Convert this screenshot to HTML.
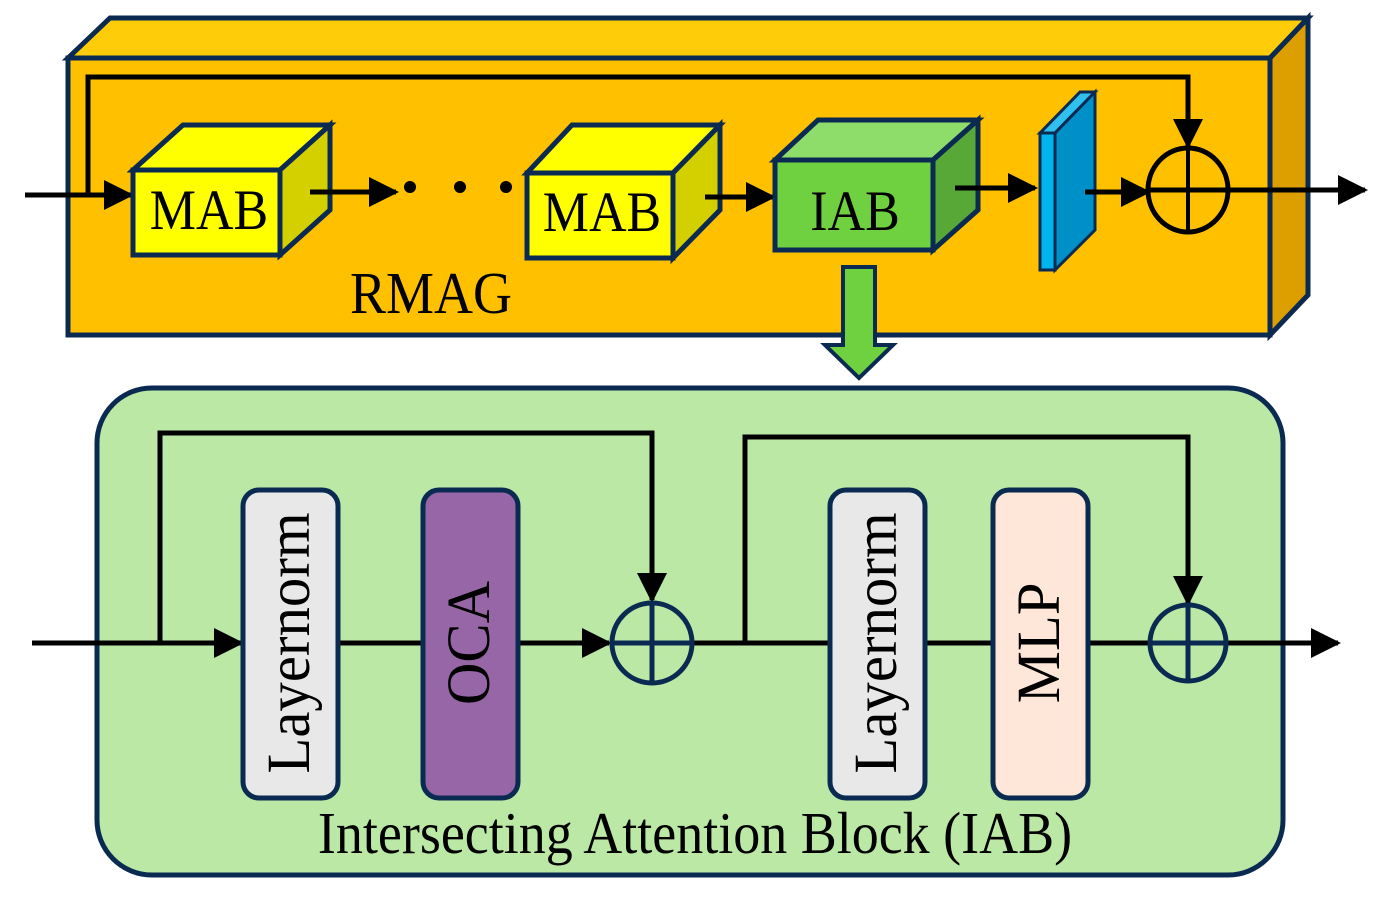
<!DOCTYPE html>
<html><head><style>html,body{margin:0;padding:0;background:#fff;}svg{display:block}</style></head>
<body>
<svg width="1386" height="900" viewBox="0 0 1386 900" xmlns="http://www.w3.org/2000/svg" font-family="Liberation Serif, serif">
<defs>
<marker id="ah2" viewBox="0 0 10 10" refX="9" refY="5" markerWidth="6" markerHeight="6" orient="auto" markerUnits="strokeWidth"><path d="M0,0 L10,5 L0,10 z" fill="#000"/></marker>
</defs>
<g stroke="#0b2a52" stroke-width="5" stroke-linejoin="miter">
<polygon points="68,58 110,18 1308,18 1270,58" fill="#ffcc0a"/>
<polygon points="1270,58 1308,18 1308,295 1270,335" fill="#dd9f00"/>
<rect x="68" y="58" width="1202" height="277" fill="#ffc000"/>
</g>
<polyline points="88,195 88,77 1188,77 1188,146" fill="none" stroke="#000" stroke-width="5" marker-end="url(#ah2)"/>
<line x1="25" y1="195" x2="131" y2="195" stroke="#000" stroke-width="5" marker-end="url(#ah2)"/>
<g stroke="#0b2a52" stroke-width="5">
<polygon points="133,170 183,125 330,125 280,170" fill="#ffff00"/>
<polygon points="280,170 330,125 330,210 280,255" fill="#d4d000"/>
<rect x="133" y="170" width="147" height="85" fill="#ffff00"/>
</g>
<text transform="translate(209,229) scale(1,1.1)" font-size="52" text-anchor="middle">MAB</text>
<line x1="310" y1="192" x2="396" y2="192" stroke="#000" stroke-width="5" marker-end="url(#ah2)"/>
<circle cx="410" cy="187" r="6"/><circle cx="460" cy="187" r="6"/><circle cx="506" cy="187" r="6"/>
<g stroke="#0b2a52" stroke-width="5">
<polygon points="527,173 572,125 720,125 673,173" fill="#ffff00"/>
<polygon points="673,173 720,125 720,210 673,258" fill="#d4d000"/>
<rect x="527" y="173" width="146" height="85" fill="#ffff00"/>
</g>
<text transform="translate(602,231) scale(1,1.1)" font-size="52" text-anchor="middle">MAB</text>
<line x1="705" y1="197" x2="773" y2="197" stroke="#000" stroke-width="5" marker-end="url(#ah2)"/>
<g stroke="#0b2a52" stroke-width="5">
<polygon points="775,160 818,120 978,120 933,160" fill="#8edc6a"/>
<polygon points="933,160 978,120 978,210 933,250" fill="#58a838"/>
<rect x="775" y="160" width="158" height="90" fill="#6fd040"/>
</g>
<text transform="translate(855,230) scale(1,1.1)" font-size="52" text-anchor="middle">IAB</text>
<line x1="955" y1="188" x2="1035" y2="188" stroke="#000" stroke-width="5" marker-end="url(#ah2)"/>
<g stroke="#0b2a52" stroke-width="3">
<polygon points="1040,133 1080,92 1095,92 1055,133" fill="#30c0f0"/>
<polygon points="1055,133 1095,92 1095,230 1055,270" fill="#0090c8"/>
<rect x="1040" y="133" width="15" height="137" fill="#00b4ee"/>
</g>
<line x1="1085" y1="192" x2="1148" y2="192" stroke="#000" stroke-width="5" marker-end="url(#ah2)"/>
<ellipse cx="1188" cy="190" rx="40" ry="42" fill="none" stroke="#000" stroke-width="5"/>
<line x1="1188" y1="148" x2="1188" y2="232" stroke="#000" stroke-width="4"/>
<line x1="1148" y1="190" x2="1365" y2="190" stroke="#000" stroke-width="5" marker-end="url(#ah2)"/>
<text transform="translate(431,313) scale(1,1.1)" font-size="54" text-anchor="middle">RMAG</text>
<polygon points="843,267 875,267 875,345 893,345 859,378 825,345 843,345" fill="#6fd040" stroke="#0b2a52" stroke-width="4"/>
<rect x="97" y="388" width="1186" height="487" rx="55" fill="#bbe8a5" stroke="#0b2a52" stroke-width="5"/>
<polyline points="160,643 160,433 652,433 652,600" fill="none" stroke="#000" stroke-width="5" marker-end="url(#ah2)"/>
<line x1="32" y1="643" x2="241" y2="643" stroke="#000" stroke-width="5" marker-end="url(#ah2)"/>
<line x1="338" y1="643" x2="423" y2="643" stroke="#000" stroke-width="5"/>
<line x1="518" y1="643" x2="609" y2="643" stroke="#000" stroke-width="5" marker-end="url(#ah2)"/>
<line x1="692" y1="643" x2="830" y2="643" stroke="#000" stroke-width="5"/>
<polyline points="745,643 745,437 1188,437 1188,603" fill="none" stroke="#000" stroke-width="5" marker-end="url(#ah2)"/>
<line x1="925" y1="643" x2="993" y2="643" stroke="#000" stroke-width="5"/>
<line x1="1088" y1="643" x2="1148" y2="643" stroke="#000" stroke-width="5"/>
<line x1="1228" y1="643" x2="1338" y2="643" stroke="#000" stroke-width="5" marker-end="url(#ah2)"/>
<g stroke="#0b2a52" stroke-width="5">
<rect x="243" y="490" width="95" height="308" rx="16" fill="#e8e8e8"/>
<rect x="423" y="490" width="95" height="308" rx="16" fill="#9766a6"/>
<rect x="830" y="490" width="95" height="308" rx="16" fill="#e8e8e8"/>
<rect x="993" y="490" width="95" height="308" rx="16" fill="#fee7d8"/>
<circle cx="652" cy="643" r="40" fill="none"/>
<line x1="612" y1="643" x2="692" y2="643"/><line x1="652" y1="603" x2="652" y2="683"/>
<circle cx="1188" cy="643" r="38" fill="none"/>
<line x1="1150" y1="643" x2="1226" y2="643"/><line x1="1188" y1="605" x2="1188" y2="681"/>
</g>
<g font-size="56" text-anchor="middle">
<text transform="translate(309,643) rotate(-90) scale(1.05,1.1)">Layernorm</text>
<text transform="translate(489,643) rotate(-90) scale(1.05,1.1)">OCA</text>
<text transform="translate(896,643) rotate(-90) scale(1.05,1.1)">Layernorm</text>
<text transform="translate(1059,643) rotate(-90) scale(1.05,1.1)">MLP</text>
</g>
<text transform="translate(695,853) scale(1,1.1)" font-size="54" text-anchor="middle">Intersecting Attention Block (IAB)</text>
</svg>
</body></html>
